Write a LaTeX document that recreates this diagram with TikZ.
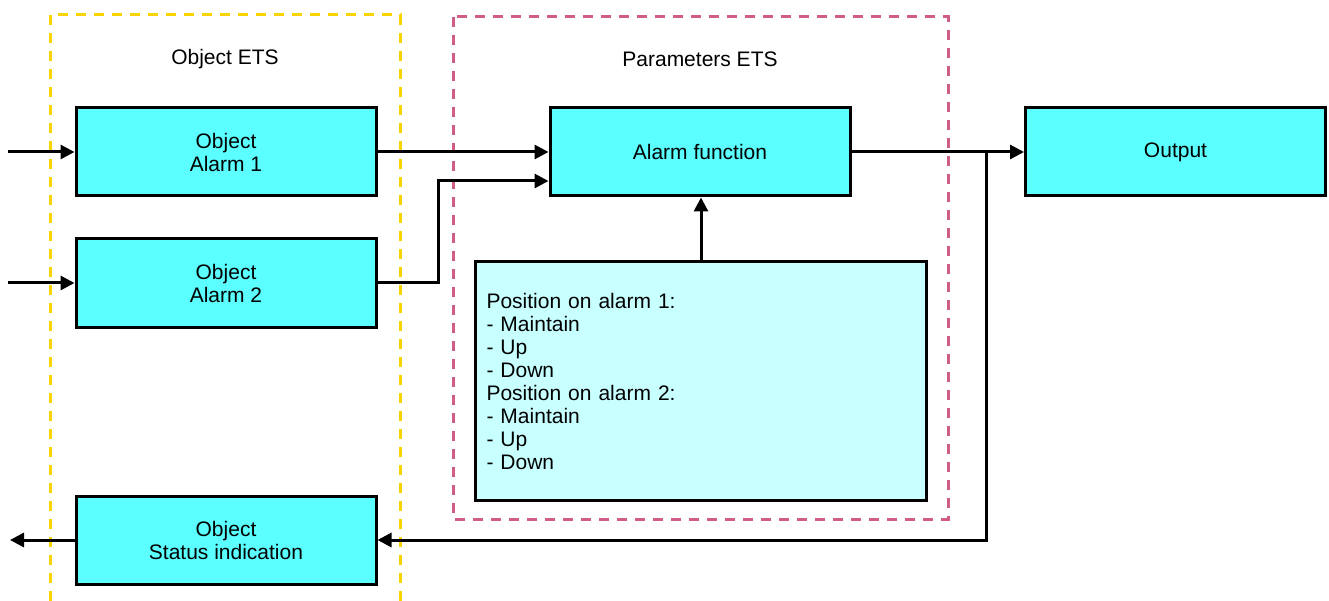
\documentclass[tikz,border=0pt]{standalone}
\usepackage{fontspec}
\setmainfont{Liberation Sans}
\usetikzlibrary{arrows.meta}
\definecolor{boxcyan}{HTML}{5CFFFF}
\definecolor{paramcyan}{HTML}{C8FFFF}
\definecolor{etsyellow}{HTML}{FAD400}
\definecolor{etspink}{HTML}{D05C88}
\begin{document}
\begin{tikzpicture}[x=1pt,y=-1pt,
  txt/.style={font=\fontsize{21}{23}\selectfont},
  blk/.style={txt, draw=black, line width=3pt, fill=boxcyan, minimum width=300pt, minimum height=88pt, align=center, inner sep=0pt},
  parbox/.style={txt, draw=black, line width=3pt, fill=paramcyan, minimum width=451pt, minimum height=239pt, text width=429pt, align=left, inner sep=0pt},
  conn/.style={line width=3pt, -{Triangle[length=14pt,width=14pt]}},
  grp/.style={line width=3pt, dash pattern=on 10pt off 8pt}]
\useasboundingbox (0,0) rectangle (1329,601);
% groups
\draw[grp, etsyellow] (50,601) -- (50,15) -- (400,15) -- (400,601);
\draw[grp, etspink] (453,17) rectangle (948,519);
\node[txt] (t1) at (225,59) {Object ETS};
\node[txt] (t2) at (700,59) {Parameters ETS};
% blocks
\node[blk] (a1) at (226,152) {Object\\Alarm 1};
\node[blk] (a2) at (226,283) {Object\\Alarm 2};
\node[blk] (st) at (226,540) {Object\\Status indication};
\node[blk] (af) at (700,152) {Alarm function};
\node[blk] (out) at (1175.5,152) {Output};
\node[parbox] (pb) at (701,381) {Position on alarm 1:\\- Maintain\\- Up\\- Down\\Position on alarm 2:\\- Maintain\\- Up\\- Down};
% coordinates
\coordinate (in1) at (8,152);
\coordinate (in2) at (8,283);
\coordinate (so) at (10,540);
\coordinate (j2) at (438,181);
\coordinate (br) at (986,152);
% connectors
\draw[conn] (in1) -- (a1.west);
\draw[conn] (in2) -- (a2.west);
\draw[conn] (a1.east) -- (a1.east -| af.west);
\draw[conn] (a2.east) -- (a2.east -| j2) -- (j2) -- (j2 -| af.west);
\draw[conn] (af.east) -- (out.west);
\draw[conn] (br) |- (st.east);
\draw[conn] (st.west) -- (so);
\draw[conn] (pb.north) -- (pb.north |- af.south);
\end{tikzpicture}
\end{document}
